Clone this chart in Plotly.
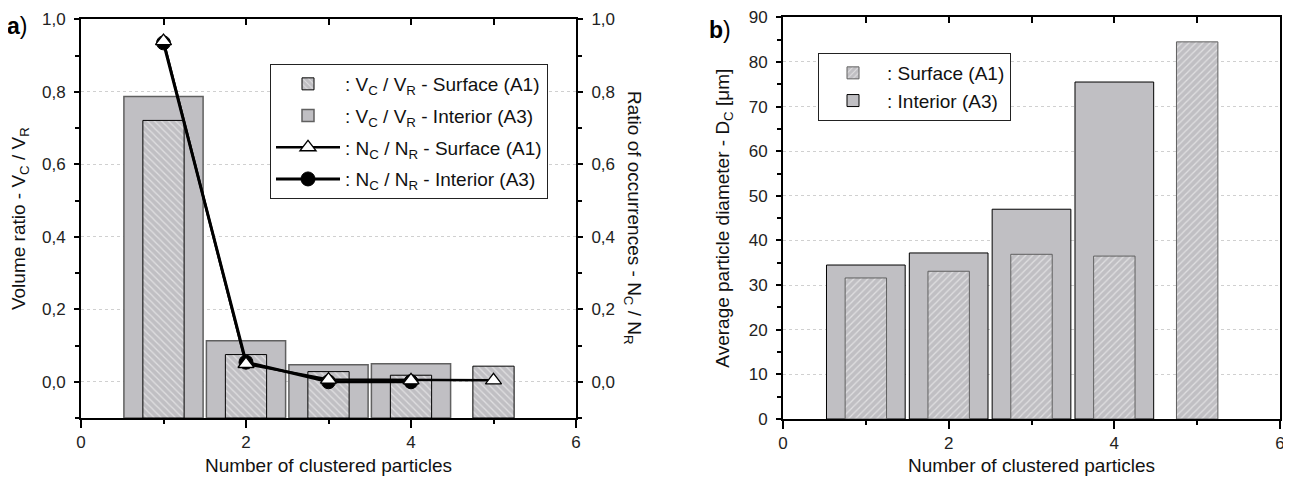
import plotly.graph_objects as go

# ---------------- data ----------------
clusters = [1, 2, 3, 4, 5]
clusters_a3 = [1, 2, 3, 4]
vol_surface = [0.721, 0.075, 0.028, 0.018, 0.043]
vol_interior = [0.787, 0.113, 0.047, 0.050]
occ_surface = [0.940, 0.049, 0.006, 0.004, 0.004]
occ_interior = [0.935, 0.054, 0.000, 0.000]
diam_surface = [31.6, 33.1, 36.9, 36.5, 84.5]
diam_interior = [34.5, 37.2, 47.0, 75.5]

Y_A_MIN = -0.1  # bottom of the volume-ratio axis; bars rise from it

FONT = "Liberation Sans, Arial, sans-serif"
GRAY = "#c0bfc3"

# page body has an 8px margin
W, H = 1283, 468
OFF = 8


def px(x):
    return (x - OFF) / W


def py(y):
    return 1 - (y - OFF) / H


fig = go.Figure()

# ---------------- panel a ----------------
fig.add_trace(go.Bar(
    x=clusters_a3, y=[v - Y_A_MIN for v in vol_interior], base=Y_A_MIN,
    width=0.96,
    marker=dict(color=GRAY, line=dict(color="#606060", width=1.5)),
    name=": V<sub>C</sub> / V<sub>R</sub> - Interior (A3)",
    legend="legend", legendgroup="g2", legendrank=2, xaxis="x", yaxis="y"))
fig.add_trace(go.Bar(
    x=clusters, y=[v - Y_A_MIN for v in vol_surface], base=Y_A_MIN,
    width=0.5,
    marker=dict(color=GRAY, line=dict(color="black", width=1),
                pattern=dict(shape="\\", fgcolor="white", bgcolor=GRAY,
                             size=5, solidity=0.25)),
    name=": V<sub>C</sub> / V<sub>R</sub> - Surface (A1)",
    legend="legend", legendgroup="g1", legendrank=1, xaxis="x", yaxis="y"))
fig.add_trace(go.Scatter(
    x=clusters_a3, y=occ_interior, mode="lines+markers",
    line=dict(color="black", width=3),
    marker=dict(symbol="circle", size=14, color="black",
                line=dict(color="black", width=1)),
    name=": N<sub>C</sub> / N<sub>R</sub> - Interior (A3)",
    legend="legend", legendgroup="g4", legendrank=4, xaxis="x", yaxis="y2"))
fig.add_trace(go.Scatter(
    x=clusters, y=occ_surface, mode="lines+markers",
    line=dict(color="black", width=2.5),
    marker=dict(symbol="triangle-up", size=14, color="white",
                line=dict(color="black", width=1.3)),
    name=": N<sub>C</sub> / N<sub>R</sub> - Surface (A1)",
    legend="legend", legendgroup="g3", legendrank=3, xaxis="x", yaxis="y2"))
fig.add_trace(go.Scatter(x=[None], y=[None], xaxis="x3", yaxis="y",
                         showlegend=False, hoverinfo="skip"))

# ---------------- panel b ----------------
fig.add_trace(go.Bar(
    x=clusters_a3, y=diam_interior, width=0.95,
    marker=dict(color=GRAY, line=dict(color="black", width=1)),
    name=": Interior (A3)", legend="legend2", legendrank=2,
    xaxis="x2", yaxis="y3"))
fig.add_trace(go.Bar(
    x=clusters, y=diam_surface, width=0.5,
    marker=dict(color=GRAY, line=dict(color="#606060", width=1),
                pattern=dict(shape="/", fgcolor="white", bgcolor=GRAY,
                             size=5, solidity=0.25)),
    name=": Surface (A1)", legend="legend2", legendrank=1,
    xaxis="x2", yaxis="y3"))
fig.add_trace(go.Scatter(x=[None], y=[None], xaxis="x4", yaxis="y3",
                         showlegend=False, hoverinfo="skip"))

TICKFONT = dict(size=17, color="#222")
TITLE_FONT = dict(size=19)
base_axis = dict(showline=True, linecolor="black", linewidth=2,
                 ticks="outside", tickcolor="black", tickwidth=2,
                 tickfont=TICKFONT, zeroline=False, automargin=False,
                 ticklabeloverflow="allow")
xminor = dict(dtick=1, ticks="outside", ticklen=4, tickcolor="black",
              tickwidth=2)

xdom_a = [px(81), px(576)]
xdom_b = [px(783), px(1280)]
ydom_a = [py(418), py(19.3)]
ydom_b = [py(419), py(17.3)]

fig.update_layout(
    width=W, height=H,
    margin=dict(l=0, r=0, t=0, b=0, autoexpand=False),
    paper_bgcolor="white", plot_bgcolor="white",
    font=dict(family=FONT, size=17, color="#111"),
    separators=",.",
    barmode="overlay",
    showlegend=True,
    xaxis=dict(domain=xdom_a, anchor="y", range=[0, 6], dtick=2, tick0=0,
               mirror=True, showgrid=False, ticklen=8, minor=xminor,
               ticklabelstandoff=0,
               title=dict(text="Number of clustered particles",
                          font=TITLE_FONT, standoff=21),
               **base_axis),
    yaxis=dict(domain=ydom_a, anchor="x", range=[Y_A_MIN, 1.0], dtick=0.2,
               tick0=0, tickformat=".1f", showgrid=True, ticklen=5,
               gridcolor="#d0d0d0", griddash="dot", gridwidth=1,
               ticklabelstandoff=5,
               minor=dict(dtick=0.1, ticks="outside", ticklen=4,
                          tickcolor="black", tickwidth=2, showgrid=False),
               title=dict(text="Volume ratio - V<sub>C</sub> / V<sub>R</sub>",
                          font=TITLE_FONT, standoff=12),
               **base_axis),
    yaxis2=dict(overlaying="y", side="right", anchor="x",
                range=[Y_A_MIN, 1.0], dtick=0.2, tick0=0, tickformat=".1f",
                showgrid=False, ticklen=5, ticklabelstandoff=5,
                minor=dict(dtick=0.1, ticks="outside", ticklen=4,
                           tickcolor="black", tickwidth=2),
                **base_axis),
    xaxis3=dict(overlaying="x", side="top", anchor="y", range=[0, 6],
                tickvals=clusters, ticks="inside", ticklen=6,
                tickwidth=2, tickcolor="black", showticklabels=False,
                showline=False, showgrid=False, zeroline=False,
                automargin=False),
    xaxis2=dict(domain=xdom_b, anchor="y3", range=[0, 6], dtick=2, tick0=0,
                mirror=True, showgrid=False, ticklen=8, minor=xminor,
                ticklabelstandoff=0,
                title=dict(text="Number of clustered particles",
                           font=TITLE_FONT, standoff=21),
                **base_axis),
    yaxis3=dict(domain=ydom_b, anchor="x2", range=[0, 90], dtick=10, tick0=0,
                mirror=True, showgrid=True, ticklen=5, ticklabelstandoff=5,
                gridcolor="#d0d0d0", griddash="dot", gridwidth=1,
                minor=dict(dtick=5, ticks="outside", ticklen=4,
                           tickcolor="black", tickwidth=2, showgrid=False),
                title=dict(text="Average particle diameter - D<sub>C</sub> [\u03bcm]",
                           font=TITLE_FONT, standoff=14),
                **base_axis),
    xaxis4=dict(overlaying="x2", side="top", anchor="y3", range=[0, 6],
                tickvals=clusters, ticks="inside", ticklen=6,
                tickwidth=2, tickcolor="black", showticklabels=False,
                showline=False, showgrid=False, zeroline=False,
                automargin=False),
    legend=dict(x=px(270), y=py(64), xanchor="left", yanchor="top",
                bgcolor="white", bordercolor="#222", borderwidth=1,
                font=dict(size=19, family=FONT), traceorder="grouped",
                tracegroupgap=4, itemwidth=64),
    legend2=dict(x=px(818), y=py(53), xanchor="left", yanchor="top",
                 bgcolor="white", bordercolor="#222", borderwidth=1,
                 font=dict(size=19, family=FONT), traceorder="normal",
                 itemwidth=58),
    annotations=[
        dict(text="Ratio of occurrences - N<sub>C</sub> / N<sub>R</sub>",
             xref="paper", yref="paper", x=px(633), y=py(218),
             xanchor="center", yanchor="middle",
             textangle=90, showarrow=False, font=TITLE_FONT),
        dict(text="<b>a</b>)", xref="paper", yref="paper",
             x=px(17), y=py(26), xanchor="center", yanchor="middle",
             showarrow=False, font=dict(size=23, color="black")),
        dict(text="<b>b</b>)", xref="paper", yref="paper",
             x=px(720), y=py(30), xanchor="center", yanchor="middle",
             showarrow=False, font=dict(size=23, color="black")),
    ],
)

fig.write_html("out.html")
